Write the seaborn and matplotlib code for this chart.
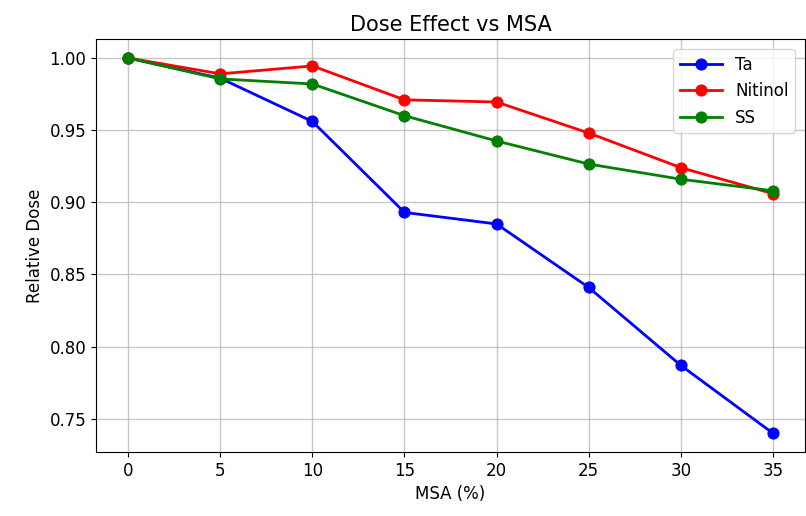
import matplotlib
matplotlib.use("Agg")
import matplotlib.pyplot as plt
import seaborn as sns
import pandas as pd

msa = [0, 5, 10, 15, 20, 25, 30, 35]
ta = [1.000, 0.986, 0.956, 0.893, 0.885, 0.841, 0.787, 0.740]
nitinol = [1.000, 0.989, 0.9945, 0.971, 0.9695, 0.948, 0.924, 0.906]
ss = [1.000, 0.9855, 0.982, 0.960, 0.9425, 0.9265, 0.916, 0.908]

series = [("Ta", ta, "blue"), ("Nitinol", nitinol, "red"), ("SS", ss, "green")]

fig, ax = plt.subplots(figsize=(8.06, 5.16), dpi=100)
for name, vals, color in series:
    df = pd.DataFrame({"MSA": msa, "Dose": vals})
    sns.lineplot(data=df, x="MSA", y="Dose", ax=ax, color=color, marker="o",
                 markersize=8, markeredgecolor=color, linewidth=2, label=name)

ax.set_title("Dose Effect vs MSA", fontsize=15)
ax.set_xlabel("MSA (%)", fontsize=12)
ax.set_ylabel("Relative Dose", fontsize=12)
ax.set_xticks(msa)
ax.tick_params(labelsize=12)
ax.grid(True, color="#b0b0b0", linewidth=1, alpha=0.7)
ax.legend(loc="upper right", fontsize=12, handlelength=2.5, borderaxespad=0.6)
fig.subplots_adjust(left=0.119, right=0.999, top=0.924, bottom=0.124)
fig.savefig("out.png", dpi=100)
